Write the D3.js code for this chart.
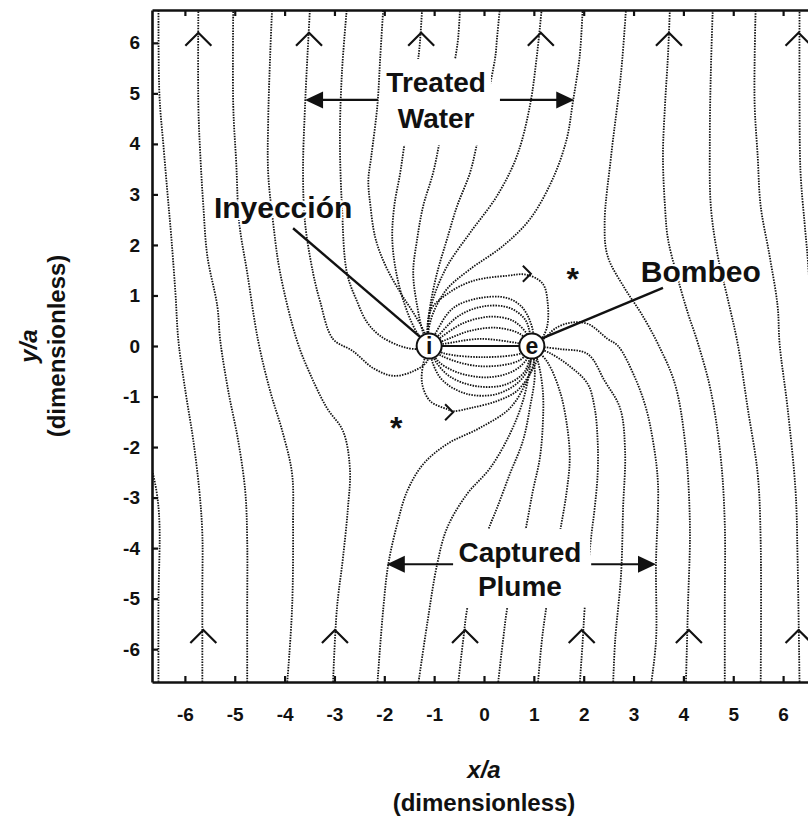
<!DOCTYPE html>
<html>
<head>
<meta charset="utf-8">
<script src="https://cdn.jsdelivr.net/npm/d3@7"></script>
<style>
  body { margin: 0; background: #fff; }
  svg { display: block; }
  .lbl { font-family: "Liberation Sans", Arial, sans-serif; font-weight: bold; fill: #111; }
  .tick text { font-family: "Liberation Sans", Arial, sans-serif; font-weight: bold; font-size: 19px; fill: #111; }
</style>
</head>
<body>
<svg id="chart" width="808" height="821"></svg>
<script>
// ---- axis ticks ----
const xTicks = [-6, -5, -4, -3, -2, -1, 0, 1, 2, 3, 4, 5, 6];
const yTicks = [-6, -5, -4, -3, -2, -1, 0, 1, 2, 3, 4, 5, 6];

// ---- wells (x/a, y/a) ----
const injectionWell = [-1.10, 0];
const extractionWell = [0.96, 0];

// ---- stagnation points ----
const stagnationPoints = [[1.78, 1.45], [-1.76, -1.50]];

// ---- flow direction chevrons along the regional flow ----
const chevronsTopX = [-5.73, -3.51, -1.26, 1.14, 3.71, 6.31];
const chevronsTopY = 6.20;
const chevronsBottomX = [-5.63, -2.99, -0.38, 1.96, 4.11, 6.31];
const chevronsBottomY = -5.62;

// ---- direction marks on the outer recirculation loops ----
const loopArrows = [[0.92, 1.43], [-0.64, -1.31]];

// ---- streamlines passing to the left of the wells ----
const farLeftLines = [
  [[-6.53,-6.7],[-6.53,-5.05],[-6.51,-3.52],[-6.57,-2.87],[-6.72,-2.2]],
  [[-5.65,-6.7],[-5.65,-4.85],[-5.65,-3.72],[-5.71,-2.87],[-5.83,-1.88],[-5.99,-0.89],[-6.13,0.10],[-6.19,1.05],[-6.27,2.12],[-6.35,3.03],[-6.43,3.96],[-6.51,4.95],[-6.53,6.7]],
  [[-4.75,-6.7],[-4.75,-5.19],[-4.75,-3.86],[-4.79,-2.87],[-4.93,-1.88],[-5.13,-0.89],[-5.29,0.10],[-5.35,0.79],[-5.55,1.78],[-5.63,2.77],[-5.69,3.76],[-5.73,4.75],[-5.73,6.7]],
  [[-3.95,-6.7],[-3.85,-5.19],[-3.83,-3.52],[-3.85,-2.53],[-4.03,-1.74],[-4.29,-0.89],[-4.53,0.10],[-4.75,1.45],[-4.91,2.44],[-4.97,3.62],[-5.03,4.75],[-5.03,6.7]],
  [[-3.03,-6.7],[-2.95,-5.19],[-2.83,-4.20],[-2.73,-3.21],[-2.69,-2.42],[-2.83,-1.68],[-3.15,-1.23],[-3.49,-0.55],[-3.75,0.10],[-4.09,1.45],[-4.23,2.44],[-4.33,3.43],[-4.33,4.42],[-4.29,5.74],[-4.25,6.7]]
];

// ---- streamlines leaving the injection well towards the top (treated water) ----
const treatedLines = [
  [[-1.10,0],[-1.14,-0.30],[-1.42,-0.50],[-1.82,-0.59],[-2.22,-0.44],[-2.63,-0.10],[-3.03,0.14],[-3.29,0.89],[-3.43,1.45],[-3.59,2.44],[-3.63,3.43],[-3.59,4.75],[-3.49,6.7]],
  [[-1.10,0],[-1.34,-0.06],[-1.68,0],[-2.08,0.20],[-2.34,0.46],[-2.55,0.89],[-2.75,1.45],[-2.85,2.77],[-2.89,4.10],[-2.85,5.41],[-2.75,6.7]],
  [[-1.10,0],[-1.18,0.24],[-1.38,0.60],[-1.68,1.06],[-1.98,1.60],[-2.18,2.14],[-2.28,2.79],[-2.32,3.28],[-2.26,3.76],[-2.14,4.75],[-2.08,5.74],[-2.02,6.7]],
  [[-1.10,0],[-1.34,0.26],[-1.58,0.79],[-1.76,1.45],[-1.84,2.12],[-1.80,2.77],[-1.68,3.43],[-1.58,4.10],[-1.32,5.68],[-1.28,6.08],[-1.24,6.7]],
  [[-1.10,0],[-1.22,0.26],[-1.34,0.79],[-1.42,1.45],[-1.34,2.12],[-1.22,2.77],[-1.02,3.43],[-0.88,4.10],[-0.58,5.68],[-0.52,6.08],[-0.48,6.7]],
  [[-1.10,0],[-1.14,0.26],[-1.08,0.79],[-0.94,1.45],[-0.74,2.12],[-0.54,2.77],[-0.28,3.43],[-0.12,4.10],[0.22,5.68],[0.26,6.08],[0.32,6.7]],
  [[-1.10,0],[-1.12,0.40],[-1.02,0.93],[-0.74,1.58],[-0.28,2.24],[0.26,2.97],[0.66,3.76],[0.92,4.75],[1.06,5.74],[1.16,6.7]],
  [[-1.10,0],[-1.12,0.24],[-1.02,0.65],[-0.74,1.13],[-0.28,1.52],[0.38,1.98],[0.92,2.51],[1.38,3.31],[1.66,4.10],[1.78,4.81],[1.92,5.74],[1.98,6.7]]
];

// ---- recirculation streamlines from the injection well to the extraction well ----
const recirculationLines = [
  [[-1.10,0],[-1.08,0.69],[-0.74,1.03],[-0.22,1.29],[0.46,1.39],[0.86,1.41],[1.18,1.23],[1.28,0.83],[1.26,0.36],[1.12,0.10],[0.96,0]],
  [[-1.10,0],[-0.98,0.24],[-0.62,0.75],[-0.08,0.95],[0.46,0.95],[0.78,0.75],[0.98,0.30],[0.96,0]],
  [[-1.10,0],[-0.92,0.20],[-0.50,0.60],[0.02,0.79],[0.52,0.75],[0.84,0.50],[0.96,0]],
  [[-1.10,0],[-0.88,0.16],[-0.42,0.45],[0.12,0.58],[0.58,0.50],[0.86,0.24],[0.96,0]],
  [[-1.10,0],[-0.82,0.10],[-0.28,0.30],[0.26,0.36],[0.72,0.24],[0.96,0]],
  [[-1.10,0],[-0.82,0.04],[-0.08,0.14],[0.66,0.06],[0.96,0]],
  [[-1.10,0],[-1.22,-0.36],[-1.24,-0.75],[-1.08,-1.09],[-0.74,-1.25],[-0.62,-1.29],[-0.28,-1.23],[0.26,-1.09],[0.66,-0.89],[0.92,-0.55],[1.06,-0.24],[0.96,0]],
  [[-1.10,0],[-1.02,-0.36],[-0.82,-0.69],[-0.34,-0.95],[0.26,-0.95],[0.72,-0.69],[0.92,-0.36],[0.96,0]],
  [[-1.10,0],[-0.96,-0.32],[-0.66,-0.62],[-0.12,-0.80],[0.44,-0.76],[0.82,-0.50],[0.96,0]],
  [[-1.10,0],[-0.92,-0.30],[-0.54,-0.52],[0.06,-0.62],[0.58,-0.50],[0.86,-0.26],[0.96,0]],
  [[-1.10,0],[-0.84,-0.20],[-0.08,-0.40],[0.72,-0.28],[0.96,0]],
  [[-1.10,0],[-0.82,-0.14],[-0.02,-0.22],[0.76,-0.14],[0.96,0]]
];

// ---- streamlines captured by the extraction well (captured plume) ----
const captureLines = [
  [[-2.14,-6.7],[-2.02,-5.19],[-1.92,-4.32],[-1.74,-3.52],[-1.54,-2.87],[-1.22,-2.34],[-0.74,-1.94],[-0.08,-1.62],[0.52,-1.23],[0.86,-0.69],[1.0,-0.30],[0.96,0]],
  [[-1.32,-6.7],[-1.14,-5.50],[-0.94,-4.32],[-0.74,-3.60],[-0.34,-2.93],[0.12,-2.42],[0.52,-1.74],[0.78,-1.09],[0.92,-0.44],[0.96,0]],
  [[-0.52,-6.7],[-0.42,-5.84],[-0.32,-5.11],[0.08,-3.66],[0.26,-3.21],[0.52,-2.53],[0.78,-1.88],[0.92,-1.23],[1.02,-0.55],[0.96,0]],
  [[0.28,-6.7],[0.38,-5.84],[0.48,-5.11],[0.82,-3.70],[0.98,-2.87],[1.12,-2.22],[1.18,-1.54],[1.18,-0.89],[1.08,-0.30],[0.96,0]],
  [[1.08,-6.7],[1.16,-5.84],[1.26,-5.11],[1.52,-3.70],[1.66,-2.87],[1.72,-2.22],[1.66,-1.54],[1.52,-0.89],[1.26,-0.30],[0.96,0]],
  [[1.92,-6.7],[1.98,-5.84],[2.02,-5.19],[2.14,-3.86],[2.22,-3.21],[2.28,-2.53],[2.28,-1.88],[2.22,-1.23],[2.08,-0.75],[1.72,-0.40],[1.32,-0.14],[0.96,0]],
  [[2.59,-6.7],[2.63,-5.84],[2.75,-4.51],[2.79,-3.21],[2.83,-2.08],[2.73,-1.23],[2.42,-0.69],[2.08,-0.16],[1.52,-0.06],[0.96,0]],
  [[3.35,-6.7],[3.45,-5.84],[3.45,-4.32],[3.49,-2.73],[3.39,-1.88],[3.25,-1.23],[3.03,-0.63],[2.69,0],[2.48,0.14],[2.08,0.44],[1.72,0.46],[1.42,0.34],[1.22,0.16],[0.96,0]]
];

// ---- streamlines passing to the right of the wells ----
const farRightLines = [
  [[4.05,-6.7],[4.09,-5.19],[4.13,-3.52],[4.03,-1.88],[3.83,-0.75],[3.49,0.04],[3.15,0.65],[2.83,1.13],[2.48,1.78],[2.42,2.44],[2.55,3.76],[2.75,5.41],[2.85,6.7]],
  [[4.83,-6.7],[4.83,-5.19],[4.83,-3.52],[4.75,-2.22],[4.55,-0.89],[4.29,0.06],[4.09,0.65],[3.89,1.33],[3.69,2.12],[3.63,2.77],[3.59,3.76],[3.63,4.75],[3.69,5.74],[3.73,6.7]],
  [[5.55,-6.7],[5.55,-3.86],[5.49,-2.53],[5.29,-1.23],[5.09,0.04],[4.89,0.93],[4.69,1.78],[4.55,2.77],[4.53,4.10],[4.55,5.41],[4.59,6.7]],
  [[6.33,-6.7],[6.29,-4.20],[6.25,-2.87],[6.09,-1.23],[5.93,0.04],[5.89,0.79],[5.73,1.78],[5.55,2.77],[5.49,3.76],[5.43,4.75],[5.43,5.74],[5.45,6.7]],
  [[6.90,-6.7],[6.85,-2.0],[6.62,0],[6.49,1.78],[6.43,2.44],[6.35,3.43],[6.33,4.75],[6.33,6.7]]
];

// ---- scales ----
const svg = d3.select("#chart");
const x = d3.scaleLinear().domain([-6.66, 6.66]).range([152, 816]);
const y = d3.scaleLinear().domain([-6.65, 6.65]).range([682, 10]);
const [x0, x1] = x.range();
const [y0, y1] = y.range();

svg.append("defs").append("clipPath").attr("id", "plot-area")
  .append("rect").attr("x", x0).attr("y", y1).attr("width", x1 - x0).attr("height", y0 - y1);

const stream = d3.line().x(d => x(d[0])).y(d => y(d[1])).curve(d3.curveCatmullRom.alpha(0.5));

const plot = svg.append("g").attr("clip-path", "url(#plot-area)");

// dotted streamlines
const allLines = [].concat(farLeftLines, treatedLines, recirculationLines, captureLines, farRightLines);
plot.append("g").selectAll("path").data(allLines).join("path")
  .attr("d", stream)
  .attr("fill", "none")
  .attr("stroke", "#111")
  .attr("stroke-width", 1.8)
  .attr("stroke-dasharray", "1.5 1.2");

// white boxes behind the zone labels
const boxes = [
  { x: [-2.06, 0.14], y: [3.97, 5.68] },   // treated water
  { x: [-0.58, 2.13], y: [-5.17, -3.62] }  // captured plume
];
plot.append("g").selectAll("rect").data(boxes).join("rect")
  .attr("x", d => x(d.x[0])).attr("y", d => y(d.y[1]))
  .attr("width", d => x(d.x[1]) - x(d.x[0])).attr("height", d => y(d.y[0]) - y(d.y[1]))
  .attr("fill", "#fff");

// regional flow chevrons
const chevron = (cx, cy) => `M${cx - 13},${cy + 13}L${cx},${cy}L${cx + 13},${cy + 13}`;
const chevronPts = chevronsTopX.map(v => [v, chevronsTopY]).concat(chevronsBottomX.map(v => [v, chevronsBottomY]));
plot.append("g").selectAll("path").data(chevronPts).join("path")
  .attr("d", d => chevron(x(d[0]), y(d[1])))
  .attr("fill", "none").attr("stroke", "#111").attr("stroke-width", 2.2);

// loop direction marks
plot.append("g").selectAll("path").data(loopArrows).join("path")
  .attr("d", d => { const cx = x(d[0]), cy = y(d[1]); return `M${cx - 7},${cy - 8}L${cx + 1},${cy}L${cx - 7},${cy + 8}`; })
  .attr("fill", "none").attr("stroke", "#111").attr("stroke-width", 2);

// stagnation points
plot.append("g").selectAll("text").data(stagnationPoints).join("text")
  .attr("class", "lbl")
  .attr("x", d => x(d[0])).attr("y", d => y(d[1]) + 17)
  .attr("text-anchor", "middle").attr("font-size", 32)
  .text("*");

// line joining the two wells
plot.append("line")
  .attr("x1", x(injectionWell[0])).attr("y1", y(injectionWell[1]))
  .attr("x2", x(extractionWell[0])).attr("y2", y(extractionWell[1]))
  .attr("stroke", "#111").attr("stroke-width", 2);

// leader lines
const leaders = [
  { from: [-3.83, 2.33], to: [-1.26, 0.16] },
  { from: [3.59, 1.15], to: [1.14, 0.14] }
];
plot.append("g").selectAll("line").data(leaders).join("line")
  .attr("x1", d => x(d.from[0])).attr("y1", d => y(d.from[1]))
  .attr("x2", d => x(d.to[0])).attr("y2", d => y(d.to[1]))
  .attr("stroke", "#111").attr("stroke-width", 2.4);

// wells
const wells = [{ p: injectionWell, t: "i" }, { p: extractionWell, t: "e" }];
const wg = plot.append("g").selectAll("g").data(wells).join("g")
  .attr("transform", d => `translate(${x(d.p[0])},${y(d.p[1])})`);
wg.append("circle").attr("r", 12.5).attr("fill", "#fff").attr("stroke", "#111").attr("stroke-width", 2);
wg.append("text").attr("class", "lbl").attr("text-anchor", "middle").attr("y", 8)
  .attr("font-size", 23).attr("font-weight", "normal").text(d => d.t);

// double-headed zone arrows
const zoneArrows = [
  { from: -2.13, to: -3.59, y: 4.87 },
  { from: 0.32, to: 1.81, y: 4.87 },
  { from: -0.62, to: -1.95, y: -4.32 },
  { from: 2.15, to: 3.45, y: -4.32 }
];
const ag = plot.append("g").selectAll("g").data(zoneArrows).join("g");
ag.append("line")
  .attr("x1", d => x(d.from)).attr("x2", d => x(d.to) + (d.to > d.from ? -10 : 10))
  .attr("y1", d => y(d.y)).attr("y2", d => y(d.y))
  .attr("stroke", "#111").attr("stroke-width", 2.2);
ag.append("path")
  .attr("d", d => {
    const tx = x(d.to), ty = y(d.y), s = d.to > d.from ? -1 : 1;
    return `M${tx},${ty}L${tx + s * 18},${ty - 8.5}L${tx + s * 18},${ty + 8.5}Z`;
  })
  .attr("fill", "#111");

// zone and well labels
const labels = [
  { t: "Treated", p: [-0.96, 5.03], s: 28 },
  { t: "Water", p: [-0.96, 4.31], s: 28 },
  { t: "Captured", p: [0.72, -4.28], s: 28 },
  { t: "Plume", p: [0.72, -4.95], s: 28 },
  { t: "Inyección", p: [-4.03, 2.53], s: 30 },
  { t: "Bombeo", p: [4.35, 1.27], s: 30 }
];
plot.append("g").selectAll("text").data(labels).join("text")
  .attr("class", "lbl")
  .attr("x", d => x(d.p[0])).attr("y", d => y(d.p[1]))
  .attr("text-anchor", "middle").attr("font-size", d => d.s)
  .attr("paint-order", "stroke").attr("stroke", "#fff").attr("stroke-width", 4)
  .text(d => d.t);

// ---- axes ----
const fmt = d => String(d);
const axes = svg.append("g");
axes.append("g").attr("transform", `translate(0,${y0})`)
  .call(d3.axisBottom(x).tickValues(xTicks).tickFormat(fmt).tickSizeInner(-6).tickSizeOuter(0).tickPadding(26));
axes.append("g").attr("transform", `translate(0,${y1})`)
  .call(d3.axisTop(x).tickValues(xTicks).tickSizeInner(-6).tickSizeOuter(0).tickFormat(""));
axes.append("g").attr("transform", `translate(${x0},0)`)
  .call(d3.axisLeft(y).tickValues(yTicks).tickFormat(fmt).tickSizeInner(-6).tickSizeOuter(0).tickPadding(12));
axes.append("g").attr("transform", `translate(${x1},0)`)
  .call(d3.axisRight(y).tickValues(yTicks).tickSizeInner(-6).tickSizeOuter(0).tickFormat(""));
axes.selectAll(".domain").attr("stroke", "#111").attr("stroke-width", 2.6);
axes.selectAll(".tick line").attr("stroke", "#111").attr("stroke-width", 2.2);

// axis titles
svg.append("text").attr("class", "lbl").attr("text-anchor", "middle")
  .attr("x", 484).attr("y", 778).attr("font-size", 24).attr("font-style", "italic").text("x/a");
svg.append("text").attr("class", "lbl").attr("text-anchor", "middle")
  .attr("x", 484).attr("y", 811).attr("font-size", 24).text("(dimensionless)");
svg.append("text").attr("class", "lbl").attr("text-anchor", "middle")
  .attr("transform", "translate(37,346) rotate(-90)").attr("font-size", 24).attr("font-style", "italic").text("y/a");
svg.append("text").attr("class", "lbl").attr("text-anchor", "middle")
  .attr("transform", "translate(65,346) rotate(-90)").attr("font-size", 24).text("(dimensionless)");
</script>
</body>
</html>
